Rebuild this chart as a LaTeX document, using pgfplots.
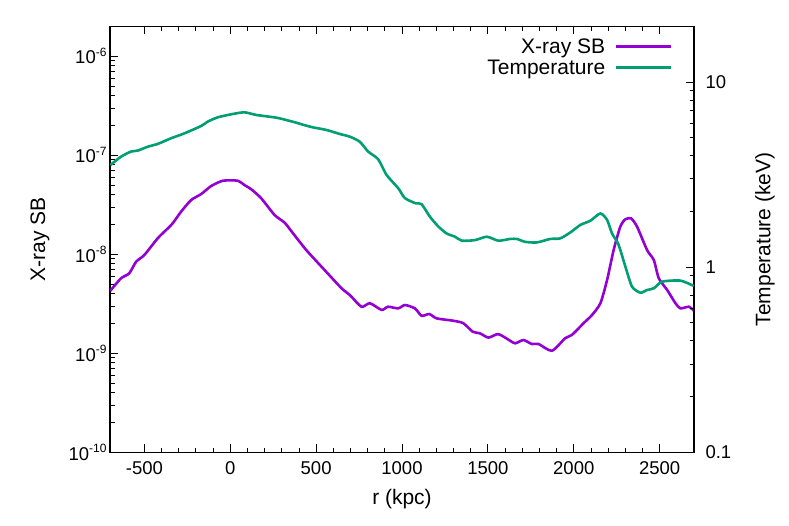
\documentclass[border=0pt]{standalone}
\usepackage{fontspec}
\setmainfont{Liberation Sans}
\usepackage{pgfplots}
\pgfplotsset{compat=1.18}
\usepackage{pgfplotstable}

\definecolor{sbcol}{RGB}{148,0,211}
\definecolor{tcol}{RGB}{0,158,115}

% 10 with a raised exponent, gnuplot style
\newcommand{\tsup}[1]{10\raisebox{7.5bp}{\fontsize{12bp}{12bp}\selectfont #1}}

% X-ray surface brightness profile
\pgfplotstableread{
r sb
-698 4.28e-9
-636 5.71e-9
-588 6.41e-9
-548 8.40e-9
-500 9.82e-9
-422 1.45e-8
-364 1.82e-8
-335 2.05e-8
-286 2.69e-8
-228 3.52e-8
-169 4.05e-8
-111 4.88e-8
-43 5.52e-8
44 5.52e-8
83 4.99e-8
123 4.52e-8
181 3.66e-8
258 2.49e-8
317 2.08e-8
365 1.63e-8
443 1.10e-8
540 7.21e-9
648 4.53e-9
696 3.88e-9
764 2.95e-9
813 3.20e-9
881 2.74e-9
919 2.95e-9
978 2.84e-9
1017 3.07e-9
1075 2.84e-9
1114 2.39e-9
1159 2.49e-9
1202 2.25e-9
1299 2.13e-9
1357 2.01e-9
1412 1.65e-9
1454 1.59e-9
1503 1.44e-9
1561 1.56e-9
1629 1.34e-9
1659 1.26e-9
1707 1.36e-9
1756 1.24e-9
1795 1.24e-9
1873 1.06e-9
1950 1.42e-9
1989 1.53e-9
2057 2.01e-9
2106 2.43e-9
2155 3.20e-9
2194 5.49e-9
2232 1.10e-8
2271 1.90e-8
2300 2.25e-8
2334 2.30e-8
2369 1.89e-8
2427 1.10e-8
2466 8.74e-9
2495 5.71e-9
2544 4.35e-9
2592 3.20e-9
2621 2.84e-9
2670 2.95e-9
2699 2.69e-9
}\sbdata

% temperature profile (keV)
\pgfplotstableread{
r T
-698 3.56
-636 3.95
-578 4.21
-539 4.26
-481 4.47
-422 4.63
-344 4.97
-267 5.28
-169 5.79
-131 6.11
-72 6.45
15 6.72
83 6.86
152 6.64
268 6.42
327 6.23
385 6.03
429 5.86
482 5.69
560 5.51
638 5.24
696 5.07
754 4.76
803 4.21
861 3.83
910 3.15
978 2.67
1017 2.36
1081 2.21
1114 2.19
1163 1.87
1211 1.66
1260 1.52
1309 1.46
1348 1.39
1425 1.40
1494 1.46
1561 1.39
1629 1.42
1669 1.42
1717 1.37
1785 1.36
1863 1.42
1921 1.43
1980 1.54
2038 1.69
2096 1.78
2155 1.95
2194 1.80
2223 1.52
2261 1.32
2300 1.01
2339 0.785
2388 0.728
2427 0.753
2466 0.769
2515 0.835
2621 0.846
2699 0.791
}\tdata

\begin{document}
\begin{tikzpicture}
\useasboundingbox (0,0) rectangle (789bp,526bp);
\pgfplotsset{
  common/.style={
    scale only axis, width=584bp, height=426bp,
    at={(110bp,73.7bp)}, anchor=south west,
    xmin=-700, xmax=2700,
    tick align=inside,
    axis line style={line width=1.1bp},
    major tick length=8bp, minor tick length=4.5bp,
    every tick/.style={black, line width=0.8bp},
    tick label style={font=\fontsize{18.5bp}{21bp}\selectfont},
    label style={font=\fontsize{21bp}{24bp}\selectfont},
  }
}
\begin{axis}[common,
  ymode=log, ymin=1e-10, ymax=2e-6,
  xtick={-500,0,500,1000,1500,2000,2500},
  xticklabels={-500,0,500,1000,1500,2000,2500},
  xticklabel shift=6bp,
  minor x tick num=4,
  xtick pos=both, ytick pos=left,
  ytick={1e-10,1e-9,1e-8,1e-7,1e-6},
  yticklabels={\tsup{-10},\tsup{-9},\tsup{-8},\tsup{-7},\tsup{-6}},
  minor ytick={2e-10,3e-10,4e-10,5e-10,6e-10,7e-10,8e-10,9e-10,
    2e-9,3e-9,4e-9,5e-9,6e-9,7e-9,8e-9,9e-9,
    2e-8,3e-8,4e-8,5e-8,6e-8,7e-8,8e-8,9e-8,
    2e-7,3e-7,4e-7,5e-7,6e-7,7e-7,8e-7,9e-7,2e-6},
  xlabel={r (kpc)}, ylabel={X-ray SB},
  xlabel style={at={(axis description cs:0.5,-0.11)}, anchor=center},
  ylabel style={at={(axis description cs:-0.12,0.5)}, anchor=center},
]
\addplot[sbcol, line width=2.6bp, smooth, tension=0.4] table[x=r, y=sb] {\sbdata};
\end{axis}
\begin{axis}[common,
  ymode=log, ymin=0.1, ymax=20,
  axis x line=none, axis y line*=right,
  ytick={0.1,1,10}, yticklabels={0.1,1,10},
  yticklabel shift=8bp,
  minor ytick={0.2,0.3,0.4,0.5,0.6,0.7,0.8,0.9,2,3,4,5,6,7,8,9,20},
  ylabel={Temperature (keV)},
  ylabel style={at={(axis description cs:1.1216,0.5)}, anchor=center},
  legend plot pos=right,
  legend cell align=right,
  legend image code/.code={\path (0bp,0bp); \draw[#1] (7bp,0bp) -- (62bp,0bp);},
  legend style={draw=none, fill=none, at={(axis description cs:1,1)},
    anchor=north east, xshift=-19bp, yshift=-8bp, row sep=1bp,
    font=\fontsize{21bp}{24bp}\selectfont},
]
\addlegendimage{sbcol, line width=2.6bp}
\addlegendentry{X-ray SB}
\addplot[tcol, line width=2.6bp, smooth, tension=0.4] table[x=r, y=T] {\tdata};
\addlegendentry{Temperature}
\end{axis}
\end{tikzpicture}
\end{document}
